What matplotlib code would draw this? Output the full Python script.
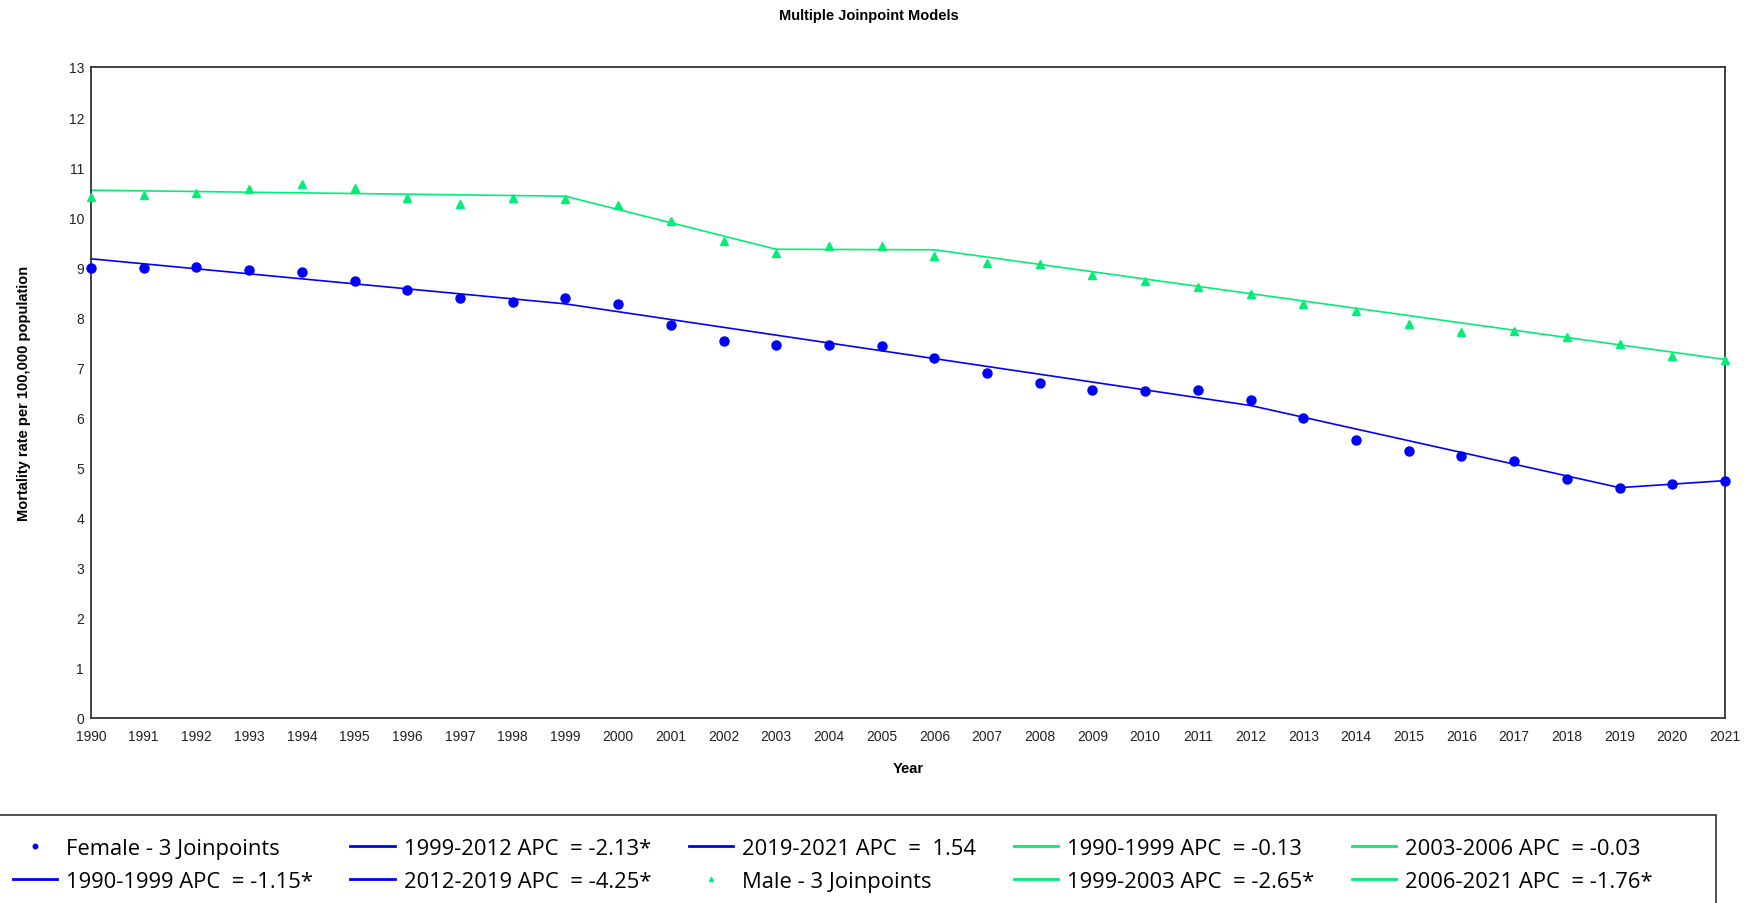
import matplotlib
matplotlib.use('Agg')
import matplotlib.pyplot as plt
from matplotlib.patches import Rectangle

# ---------------- data ----------------
years = list(range(1990, 2022))
female_rate = [8.99, 8.99, 9.01, 8.95, 8.90, 8.73, 8.55, 8.39, 8.30, 8.39,
               8.26, 7.84, 7.53, 7.45, 7.45, 7.43, 7.19, 6.89, 6.69, 6.55,
               6.53, 6.55, 6.35, 5.99, 5.55, 5.33, 5.24, 5.14, 4.78, 4.59,
               4.67, 4.73]
male_rate = [10.41, 10.45, 10.49, 10.56, 10.67, 10.59, 10.39, 10.27, 10.39, 10.37,
             10.25, 9.92, 9.53, 9.29, 9.42, 9.43, 9.23, 9.09, 9.07, 8.84,
             8.73, 8.61, 8.47, 8.26, 8.13, 7.87, 7.71, 7.73, 7.60, 7.47,
             7.23, 7.14]

female_joinpoints = [1990, 1999, 2012, 2019, 2021]
female_fit = [9.17, 8.27, 6.24, 4.60, 4.74]
female_labels = ["1990-1999 APC  = -1.15*", "1999-2012 APC  = -2.13*",
                 "2012-2019 APC  = -4.25*", "2019-2021 APC  =  1.54"]

male_joinpoints = [1990, 1999, 2003, 2006, 2021]
male_fit = [10.54, 10.42, 9.36, 9.35, 7.16]
male_labels = ["1990-1999 APC  = -0.13", "1999-2003 APC  = -2.65*",
               "2003-2006 APC  = -0.03", "2006-2021 APC  = -1.76*"]

series_names = ["Female - 3 Joinpoints", "Male - 3 Joinpoints"]
yticks = list(range(0, 14))

# ---------------- style ----------------
BLUE = "#0000FF"
GREEN = "#00EE76"
TICKFONT = ['Liberation Sans Narrow', 'Liberation Sans', 'DejaVu Sans']
LABFONT = ['Liberation Sans', 'DejaVu Sans']
LEGFONT = ['Open Sans', 'DejaVu Sans']
W, H = 1746, 904

fig = plt.figure(figsize=(W / 100, H / 100), dpi=100)
ax = fig.add_axes([91 / W, 1 - 719 / H, (1725 - 91) / W, (719 - 68) / H])

handles = []
h, = ax.plot(years, female_rate, linestyle='none', marker='o', markersize=6.5,
             color=BLUE, label=series_names[0], clip_on=False, zorder=3)
handles.append(h)
for i, lab in enumerate(female_labels):
    h, = ax.plot(female_joinpoints[i:i + 2], female_fit[i:i + 2], color=BLUE,
                 lw=1.2, label=lab, clip_on=False)
    handles.append(h)
h, = ax.plot(years, male_rate, linestyle='none', marker='^', markersize=6,
             color=GREEN, label=series_names[1], clip_on=False, zorder=3)
handles.append(h)
for i, lab in enumerate(male_labels):
    h, = ax.plot(male_joinpoints[i:i + 2], male_fit[i:i + 2], color=GREEN,
                 lw=1.2, label=lab, clip_on=False)
    handles.append(h)

ax.set_xlim(1990, 2021)
ax.set_ylim(0, 13)
ax.set_xticks(years)
ax.set_yticks(yticks)
ax.tick_params(length=0, labelsize=10, colors='#222222')
ax.tick_params(axis='x', pad=8)
ax.tick_params(axis='y', pad=5)
for lbl in ax.get_xticklabels() + ax.get_yticklabels():
    lbl.set_family(TICKFONT)

for sp in ax.spines.values():
    sp.set_color('#333333')
    sp.set_linewidth(1.3)

ax.set_xlabel("Year", family=LABFONT, fontsize=10.5, fontweight='bold', labelpad=13)
ax.set_ylabel("Mortality rate per 100,000 population", family=LABFONT,
              fontsize=10.5, fontweight='bold', labelpad=27)
fig.text(0.4977, 1 - 15.6 / H, "Multiple Joinpoint Models", family=LABFONT,
         fontsize=10.5, fontweight='bold', ha='center', va='center')

# legend box (extends past the bottom / left edge of the image as in the reference)
fig.patches.append(Rectangle((-10 / W, -20 / H), (1716 + 10) / W, (H - 816 + 20) / H,
                             transform=fig.transFigure, fill=False,
                             edgecolor='#333333', lw=1.2))

leg = fig.legend(handles=handles, loc='upper left', ncol=5,
                 bbox_to_anchor=(12.6 / W, 1 - 839 / H),
                 prop={'family': LEGFONT, 'size': 15.8},
                 frameon=False, borderpad=0, borderaxespad=0,
                 handlelength=2.03, handletextpad=0.41, columnspacing=1.7,
                 labelspacing=0.53, markerscale=0.5)
for line in leg.get_lines():
    line.set_linewidth(2.0)

fig.savefig("out.png", dpi=100)
